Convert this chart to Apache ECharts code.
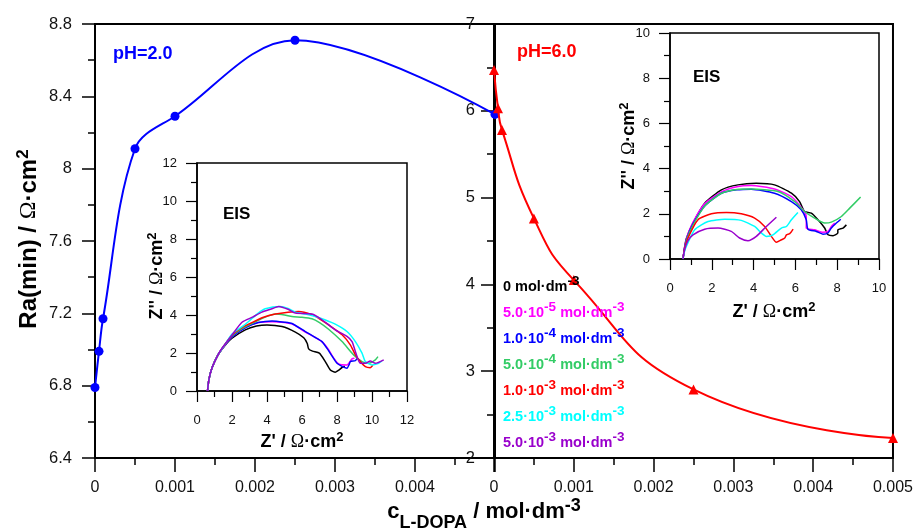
<!DOCTYPE html>
<html><head><meta charset="utf-8">
<script src="https://cdn.jsdelivr.net/npm/echarts@6/dist/echarts.min.js"></script>
<style>html,body{margin:0;padding:0;background:#fff}#c{width:916px;height:529px}</style>
</head><body><div id="c"></div>
<script>
// ---- main data ----
const concPH2 = [0, 0.00005, 0.0001, 0.0005, 0.001, 0.0025, 0.005];
const raPH2   = [6.79, 6.99, 7.17, 8.11, 8.29, 8.71, 8.30];
const concPH6 = [0, 0.00005, 0.0001, 0.0005, 0.001, 0.0025, 0.005];
const raPH6   = [6.47, 6.03, 5.78, 4.76, 4.05, 2.79, 2.23];

// ---- legend (concentration labels) ----
const concMantissa = ['0', '5.0·10', '1.0·10', '5.0·10', '1.0·10', '2.5·10', '5.0·10'];
const concExponent = ['', '-5', '-4', '-4', '-3', '-3', '-3'];
const curveColors  = ['#000000', '#ff00ff', '#0000ff', '#33cc66', '#ff0000', '#00ffff', '#9900cc'];

// ---- EIS pH 2.0 (Z', Z'') ----
const eis2_0    = [[0.6,0],[0.68,0.6],[0.85,1.2],[1.2,1.9],[1.6,2.4],[2.0,2.78],[2.76,3.22],[3.4,3.42],[4.0,3.48],[4.86,3.39],[5.62,3.1],[6.1,2.8],[6.3,2.5],[6.38,2.22],[6.6,2.1],[6.99,1.99],[7.33,1.55],[7.62,1.11],[7.9,0.99],[8.13,1.11],[8.3,1.25],[8.45,1.3]];
const eis2_5e5  = [[0.6,0],[0.68,0.6],[0.85,1.2],[1.2,1.9],[1.6,2.42],[2.0,2.85],[2.8,3.35],[3.5,3.6],[4.3,3.65],[5.0,3.6],[5.5,3.5],[6.2,3.1],[6.7,2.85],[7.14,2.6],[7.5,2.2],[7.8,1.75],[8.1,1.42],[8.57,1.37],[8.86,1.69],[9.0,1.72]];
const eis2_1e4  = [[0.6,0],[0.68,0.6],[0.85,1.2],[1.2,1.9],[1.6,2.42],[2.0,2.85],[2.8,3.35],[3.5,3.6],[4.29,3.69],[5.0,3.62],[5.43,3.55],[6.19,3.13],[6.7,2.85],[7.14,2.6],[7.5,2.15],[7.71,1.85],[8.0,1.46],[8.29,1.3],[8.57,1.2],[8.7,1.4],[8.76,1.55],[9.05,1.6],[9.14,1.72]];
const eis2_5e4  = [[0.6,0],[0.68,0.6],[0.85,1.2],[1.2,1.9],[1.6,2.45],[2.0,2.9],[2.6,3.3],[3.14,3.55],[3.8,3.85],[4.48,4.05],[5.0,4.0],[5.43,3.92],[6.0,3.88],[6.57,3.8],[7.0,3.6],[7.52,3.25],[8.29,2.6],[8.95,1.9],[9.43,1.55],[9.81,1.46],[10.19,1.64],[10.34,1.81]];
const eis2_1e3  = [[0.6,0],[0.68,0.6],[0.85,1.2],[1.2,1.9],[1.6,2.45],[2.0,2.95],[2.6,3.35],[3.14,3.6],[3.8,3.88],[4.48,4.05],[5.2,4.15],[5.81,4.19],[6.57,4.02],[7.0,3.8],[7.52,3.48],[8.29,2.96],[8.76,2.43],[9.05,1.9],[9.33,1.55],[9.62,1.28],[9.9,1.23],[10.05,1.35]];
const eis2_25e3 = [[0.6,0],[0.68,0.6],[0.85,1.2],[1.2,1.9],[1.6,2.45],[2.0,3.0],[2.6,3.4],[2.95,3.66],[3.5,4.1],[3.9,4.33],[4.76,4.45],[5.2,4.35],[5.62,4.15],[6.2,4.05],[6.76,3.92],[7.3,3.75],[7.9,3.52],[8.57,3.13],[9.05,2.6],[9.43,1.99],[9.62,1.55],[10.0,1.37],[10.38,1.46],[10.57,1.58]];
const eis2_5e3  = [[0.6,0],[0.68,0.6],[0.85,1.2],[1.2,1.9],[1.43,2.25],[2.0,2.95],[2.57,3.62],[3.2,3.9],[3.71,4.15],[4.2,4.3],[4.67,4.45],[5.2,4.3],[5.62,4.1],[6.57,4.05],[7.14,3.75],[7.9,3.22],[8.57,2.87],[8.86,2.6],[9.05,2.08],[9.33,1.46],[9.62,1.46],[9.9,1.58],[10.19,1.46],[10.67,1.64]];

// ---- EIS pH 6.0 (Z', Z'') ----
const eis6_0    = [[0.62,0],[0.7,0.5],[0.78,0.9],[1.1,1.59],[1.66,2.47],[2.46,3.06],[3.25,3.28],[4.13,3.35],[5.0,3.28],[5.81,2.91],[6.2,2.54],[6.44,2.1],[6.76,2.03],[7.08,1.74],[7.4,1.37],[7.56,1.07],[7.8,1.03],[8.03,1.15],[8.03,1.29],[8.28,1.37],[8.44,1.51]];
const eis6_5e5  = [[0.62,0],[0.7,0.55],[0.8,0.95],[1.1,1.62],[1.66,2.45],[2.46,2.97],[3.2,3.2],[3.89,3.25],[5.0,3.1],[5.81,2.76],[6.36,2.18],[6.52,1.88],[6.52,1.37],[6.92,1.29],[7.32,1.18],[7.56,1.22],[7.72,1.44],[7.88,1.59]];
const eis6_1e4  = [[0.62,0],[0.7,0.5],[0.8,0.9],[1.1,1.55],[1.66,2.35],[2.46,2.91],[3.2,3.06],[3.89,3.09],[5.0,2.91],[5.81,2.54],[6.28,2.18],[6.52,1.74],[6.6,1.32],[7.0,1.22],[7.32,1.1],[7.56,1.15],[7.72,1.37],[7.96,1.59],[8.17,1.76]];
const eis6_5e4  = [[0.62,0],[0.7,0.45],[0.8,0.85],[1.1,1.5],[1.66,2.35],[2.46,2.91],[3.2,3.08],[3.89,3.1],[5.17,2.99],[5.97,2.54],[6.44,2.1],[6.92,1.81],[7.4,1.59],[7.72,1.63],[8.2,1.88],[8.6,2.25],[9.12,2.74]];
const eis6_1e3  = [[0.62,0],[0.7,0.45],[0.86,0.93],[1.34,1.74],[1.98,2.0],[2.7,2.06],[3.41,2.0],[4.05,1.81],[4.53,1.44],[4.85,1.0],[5.09,0.74],[5.33,0.85],[5.49,0.93],[5.57,1.07],[5.73,1.12],[5.89,1.32]];
const eis6_25e3 = [[0.62,0],[0.7,0.35],[0.78,0.56],[1.18,1.29],[1.82,1.66],[2.62,1.76],[3.41,1.71],[4.05,1.44],[4.37,1.15],[4.61,1.0],[4.93,1.07],[5.33,1.37],[5.57,1.44],[5.81,1.74],[6.12,2.06]];
const eis6_5e3  = [[0.62,0],[0.7,0.41],[0.85,0.8],[1.1,1.07],[1.66,1.32],[2.3,1.37],[2.93,1.22],[3.33,0.93],[3.73,0.81],[4.13,1.0],[4.61,1.44],[5.09,1.85]];

const eisPH2 = [eis2_0, eis2_5e5, eis2_1e4, eis2_5e4, eis2_1e3, eis2_25e3, eis2_5e3];
const eisPH6 = [eis6_0, eis6_5e5, eis6_1e4, eis6_5e4, eis6_1e3, eis6_25e3, eis6_5e3];

// ---- styling ----
const FONT = "'Liberation Sans', Arial, sans-serif";
const SERIF = "'Liberation Serif', 'Times New Roman', serif";
const pairs = (xs, ys) => xs.map((x, i) => [x, ys[i]]);

function mainX(gridIndex, hideLast) {
  return {
    type: 'value', gridIndex, min: 0, max: 0.005, interval: 0.001,
    axisLine: { show: true, onZero: false, lineStyle: { color: '#000', width: 2 } },
    axisTick: { show: true, length: 14, lineStyle: { color: '#000', width: 1.5 } },
    minorTick: { show: true, splitNumber: 2, length: 7, lineStyle: { color: '#000', width: 1.5 } },
    splitLine: { show: false }, minorSplitLine: { show: false },
    axisLabel: { color: '#111', fontSize: 16, fontFamily: FONT, margin: 22, showMinLabel: true, showMaxLabel: true,
      formatter: v => (hideLast && Math.abs(v - 0.005) < 1e-9) ? '' : (v === 0 ? '0' : String(+v.toFixed(4))) }
  };
}
function mainY(gridIndex, min, max, interval, margin) {
  return {
    type: 'value', gridIndex, min, max, interval,
    axisLine: { show: true, onZero: false, lineStyle: { color: '#000', width: 2 } },
    axisTick: { show: true, length: 13, lineStyle: { color: '#000', width: 1.5 } },
    minorTick: { show: true, splitNumber: 2, length: 7, lineStyle: { color: '#000', width: 1.5 } },
    splitLine: { show: false }, minorSplitLine: { show: false },
    axisLabel: { color: '#111', fontSize: 16.5, fontFamily: FONT, margin, showMinLabel: true, showMaxLabel: true,
      formatter: v => String(Math.round(v * 10) / 10) }
  };
}
function insetAxis(gridIndex, max, isY) {
  return {
    type: 'value', gridIndex, min: 0, max, interval: 2,
    axisLine: { show: true, onZero: false, lineStyle: { color: '#000', width: 1.5 } },
    axisTick: { show: true, length: 11, lineStyle: { color: '#000', width: 1.2 } },
    minorTick: { show: true, splitNumber: 2, length: 6, lineStyle: { color: '#000', width: 1.2 } },
    splitLine: { show: false }, minorSplitLine: { show: false },
    axisLabel: { color: '#111', fontSize: 13, fontFamily: FONT, margin: isY ? 20 : 23, showMinLabel: true, showMaxLabel: true }
  };
}

function txt(x, y, text, rich, o) {
  o = o || {};
  return { type: 'text', x, y, rotation: o.rot || 0, z: 100,
    style: { text, rich, align: o.align || 'center', verticalAlign: 'middle',
      fill: o.fill || '#000', fontSize: o.size || 16, fontWeight: 'bold', fontFamily: FONT } };
}
// superscript raise = lh - size/2 - supSize/2
function titleRich(size, supSize, lh) {
  return {
    n: { fontSize: size, fontWeight: 'bold', fontFamily: FONT, lineHeight: lh, verticalAlign: 'bottom', fill: '#000' },
    o: { fontSize: size, fontWeight: 'normal', fontFamily: SERIF, lineHeight: lh, verticalAlign: 'bottom', fill: '#000' },
    s: { fontSize: supSize, fontWeight: 'bold', fontFamily: FONT, verticalAlign: 'top', fill: '#000' }
  };
}

const graphics = [];
// main axis titles
graphics.push(txt(28, 239, '{n|Ra(min) / }{o|Ω}{n|·cm}{s|2}', titleRich(24, 17, 26), { rot: Math.PI / 2 }));
graphics.push(txt(484, 512, '{m|c}{b|L-DOPA}{m| / mol·dm}{s|-3}', {
  m: { fontSize: 22, fontWeight: 'bold', fontFamily: FONT, lineHeight: 40, verticalAlign: 'middle', fill: '#000' },
  b: { fontSize: 18, fontWeight: 'bold', fontFamily: FONT, lineHeight: 18, verticalAlign: 'bottom', fill: '#000' },
  s: { fontSize: 18, fontWeight: 'bold', fontFamily: FONT, verticalAlign: 'top', padding: [5, 0, 0, 0], fill: '#000' }
}));
// inset titles
graphics.push(txt(156, 276, "{n|Z'' / }{o|Ω}{n|·cm}{s|2}", titleRich(18, 13, 21), { rot: Math.PI / 2 }));
graphics.push(txt(302, 441, "{n|Z' / }{o|Ω}{n|·cm}{s|2}", titleRich(18, 13, 21)));
graphics.push(txt(628, 146, "{n|Z'' / }{o|Ω}{n|·cm}{s|2}", titleRich(18, 13, 21), { rot: Math.PI / 2 }));
graphics.push(txt(774, 311, "{n|Z' / }{o|Ω}{n|·cm}{s|2}", titleRich(18, 13, 21)));
// annotations
graphics.push(txt(113, 54, 'pH=2.0', null, { align: 'left', size: 18, fill: '#0000ff' }));
graphics.push(txt(517, 52, 'pH=6.0', null, { align: 'left', size: 18, fill: '#ff0000' }));
graphics.push(txt(223, 214, 'EIS', null, { align: 'left', size: 17 }));
graphics.push(txt(693, 77, 'EIS', null, { align: 'left', size: 17 }));
// concentration legend
concMantissa.forEach((m, i) => {
  const c = curveColors[i];
  const rich = {
    n: { fontSize: 14.5, fontWeight: 'bold', fontFamily: FONT, lineHeight: 20, verticalAlign: 'bottom', fill: c },
    s: { fontSize: 13.5, fontWeight: 'bold', fontFamily: FONT, verticalAlign: 'top', fill: c }
  };
  const t = concExponent[i] ? `{n|${m}}{s|${concExponent[i]}}{n| mol·dm}{s|-3}` : `{n|${m} mol·dm}{s|-3}`;
  graphics.push(txt(503, 284 + i * 26, t, rich, { align: 'left', fill: c }));
});

const series = [
  { type: 'line', xAxisIndex: 0, yAxisIndex: 0, data: pairs(concPH2, raPH2), smooth: 0.35, clip: false,
    symbol: 'circle', symbolSize: 9, itemStyle: { color: '#0000ff' }, lineStyle: { color: '#0000ff', width: 2 }, z: 5 },
  { type: 'line', xAxisIndex: 1, yAxisIndex: 1, data: pairs(concPH6, raPH6), smooth: 0.5, clip: false,
    symbol: 'triangle', symbolSize: 10, itemStyle: { color: '#ff0000' }, lineStyle: { color: '#ff0000', width: 2 }, z: 6 }
];
eisPH2.forEach((d, i) => series.push({ type: 'line', xAxisIndex: 2, yAxisIndex: 2, data: d, smooth: 0.2, showSymbol: false,
  lineStyle: { color: curveColors[i], width: 1.5 }, z: 4 }));
eisPH6.forEach((d, i) => series.push({ type: 'line', xAxisIndex: 3, yAxisIndex: 3, data: d, smooth: 0.2, showSymbol: false,
  lineStyle: { color: curveColors[i], width: 1.5 }, z: 4 }));

const chart = echarts.init(document.getElementById('c'), null, { renderer: 'canvas' });
chart.setOption({
  animation: false,
  backgroundColor: '#fff',
  grid: [
    { left: 95, top: 24, width: 400, height: 434, show: true, borderColor: '#000', borderWidth: 2, backgroundColor: 'transparent' },
    { left: 494, top: 24, width: 399, height: 434, show: true, borderColor: '#000', borderWidth: 2, backgroundColor: 'transparent' },
    { left: 197, top: 163, width: 210, height: 228, show: true, borderColor: '#000', borderWidth: 1.5, backgroundColor: '#fff' },
    { left: 670, top: 33, width: 209, height: 226, show: true, borderColor: '#000', borderWidth: 1.5, backgroundColor: '#fff' }
  ],
  xAxis: [ mainX(0, true), mainX(1, false), insetAxis(2, 12, false), insetAxis(3, 10, false) ],
  yAxis: [ mainY(0, 6.4, 8.8, 0.4, 23), mainY(1, 2, 7, 1, 19), insetAxis(2, 12, true), insetAxis(3, 10, true) ],
  series,
  graphic: graphics
});
</script></body></html>
